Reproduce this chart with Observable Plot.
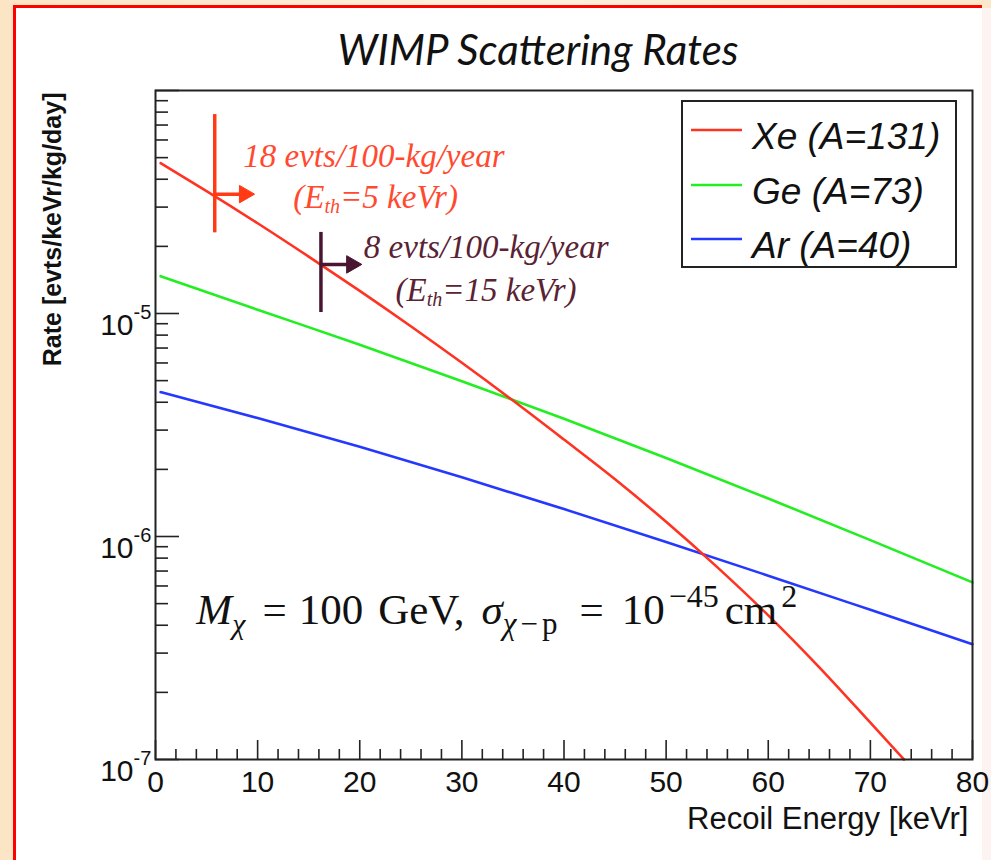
<!DOCTYPE html>
<html>
<head>
<meta charset="utf-8">
<script src="https://cdn.jsdelivr.net/npm/d3@7"></script>
<script src="https://cdn.jsdelivr.net/npm/@observablehq/plot@0.6"></script>
<style>
html, body { margin: 0; padding: 0; }
body { width: 991px; height: 860px; overflow: hidden; position: relative;
  background: linear-gradient(90deg, #fbe5c4 0%, #fdf0dc 50%, #fbe7c9 100%);
  font-family: "Liberation Sans", Arial, sans-serif; }
#panel { position: absolute; left: 13px; top: 5px; width: 969px; height: 870px; background: #ffffff;
  border-top: 3px solid #ff0000; border-left: 3px solid #ff0000; box-sizing: border-box; }
#edge { position: absolute; left: 982px; top: 8px; width: 9px; height: 852px; background: #fdf3f0; }
#chart { position: absolute; left: 0; top: 0; }
#legend { position: absolute; left: 0; top: 0; }
</style>
</head>
<body>
<div id="panel"></div>
<div id="edge"></div>
<div id="chart"></div>
<svg id="legend" width="991" height="860"></svg>
<script>
// ---------- data ----------
const title = "WIMP Scattering Rates";
const xLabel = "Recoil Energy [keVr]";
const yLabel = "Rate [evts/keVr/kg/day]";
const seriesNames = ["Xe (A=131)", "Ge (A=73)", "Ar (A=40)"];

const xeEnergy = [0.5, 5, 10, 15, 20, 25, 30, 35, 40, 45, 50, 55, 60, 65, 70, 73.3];
const xeRate = [4.72e-5, 3.54e-5, 2.54e-5, 1.80e-5, 1.264e-5, 8.77e-6, 6.01e-6, 4.07e-6, 2.72e-6, 1.806e-6, 1.164e-6, 7.29e-7, 4.43e-7, 2.59e-7, 1.462e-7, 1.0e-7];
const geEnergy = [0.5, 10, 20, 30, 40, 50, 60, 70, 80];
const geRate = [1.47e-5, 1.039e-5, 7.25e-6, 4.97e-6, 3.37e-6, 2.25e-6, 1.481e-6, 9.63e-7, 6.23e-7];
const arEnergy = [0.5, 10, 20, 30, 40, 50, 60, 70, 80];
const arRate = [4.44e-6, 3.396e-6, 2.525e-6, 1.843e-6, 1.327e-6, 9.45e-7, 6.675e-7, 4.69e-7, 3.29e-7];

const xTicks = [0, 10, 20, 30, 40, 50, 60, 70, 80];
const xMinorTicks = [2, 4, 6, 8, 12, 14, 16, 18, 22, 24, 26, 28, 32, 34, 36, 38, 42, 44, 46, 48,
  52, 54, 56, 58, 62, 64, 66, 68, 72, 74, 76, 78];
const yTicks = [1e-7, 1e-6, 1e-5, 1e-4];
const yMinorTicks = [2e-7, 3e-7, 4e-7, 5e-7, 6e-7, 7e-7, 8e-7, 9e-7,
  2e-6, 3e-6, 4e-6, 5e-6, 6e-6, 7e-6, 8e-6, 9e-6,
  2e-5, 3e-5, 4e-5, 5e-5, 6e-5, 7e-5, 8e-5, 9e-5];
const yLabelTicks = [1e-7, 1e-6, 1e-5];
const yTickBase = ["10", "10", "10"];
const yTickExp = ["-7", "-6", "-5"];

// threshold markers
const thresholdEnergy = [5.8, 16.2];
const thresholdTop = [7.8e-5, 2.31e-5];
const thresholdBottom = [2.3e-5, 1.01e-5];
const arrowRate = [3.43e-5, 1.66e-5];
const arrowEnd = [9.3, 19.8];

const noteText = ["18 evts/100-kg/year", "(Eth=5 keVr)", "8 evts/100-kg/year", "(Eth=15 keVr)"];
const noteEnergy = [8.6, 13.5, 20.4, 23.5];
const noteRate = [4.52e-5, 2.96e-5, 1.78e-5, 1.14e-5];

const formulaText = ["Mχ = 100 GeV, σχ−p = 10−45cm2"];
const formulaEnergy = [4.0];
const formulaRate = [4.07e-7];

// ---------- styles ----------
const seriesColors = ["#ff3322", "#22ee22", "#2438ff"];
const markerColors = ["#ff3a14", "#4a1530"];
const noteColors = ["#ff4a30", "#ff4a30", "#5a2232", "#5a2232"];
const serif = "'Liberation Serif', 'Times New Roman', serif";
const sans = "'Liberation Sans', Arial, Helvetica, sans-serif";

const xe = xeEnergy.map((e, i) => ({e, r: xeRate[i]}));
const ge = geEnergy.map((e, i) => ({e, r: geRate[i]}));
const ar = arEnergy.map((e, i) => ({e, r: arRate[i]}));
const thresholds = thresholdEnergy.map((x, i) => ({x, top: thresholdTop[i], bottom: thresholdBottom[i], ay: arrowRate[i], tip: arrowEnd[i]}));
const notes = noteText.map((t, i) => ({t, x: noteEnergy[i], y: noteRate[i], i}));
const yLab = yLabelTicks.map((v, i) => ({v, base: yTickBase[i], exp: yTickExp[i]}));
const formula = formulaText.map((t, i) => ({t, x: formulaEnergy[i], y: formulaRate[i]}));

function markerMarks(d, color) {
  return [
    Plot.ruleX([d], {x: "x", y1: "top", y2: "bottom", stroke: color, strokeWidth: 3.5}),
    Plot.link([d], {x1: "x", y1: "ay", x2: "tip", y2: "ay", stroke: color, strokeWidth: 3.5}),
    Plot.dot([d], {x: "tip", y: "ay", symbol: "triangle", rotate: 90, r: 6.5, fill: color, stroke: color, strokeWidth: 1, dx: -6})
  ];
}

const plot = Plot.plot({
  width: 991,
  height: 860,
  marginLeft: 155,
  marginRight: 19,
  marginTop: 90,
  marginBottom: 101,
  style: {background: "transparent", fontFamily: sans, overflow: "visible", color: "#111"},
  x: {domain: [0, 80]},
  y: {type: "log", domain: [1e-7, 1e-4]},
  marks: [
    Plot.line(ar, {x: "e", y: "r", stroke: seriesColors[2], strokeWidth: 2.6, curve: "monotone-x"}),
    Plot.line(ge, {x: "e", y: "r", stroke: seriesColors[1], strokeWidth: 2.6, curve: "monotone-x"}),
    Plot.line(xe, {x: "e", y: "r", stroke: seriesColors[0], strokeWidth: 2.6, curve: "monotone-x"}),
    // threshold markers
    ...markerMarks(thresholds[0], markerColors[0]),
    ...markerMarks(thresholds[1], markerColors[1]),
    // notes
    Plot.text(notes, {x: "x", y: "y", text: "t", fill: (d) => noteColors[d.i], textAnchor: "start", lineAnchor: "bottom",
      fontFamily: serif, fontStyle: "italic", fontSize: 33}),
    Plot.text(formula, {x: "x", y: "y", text: "t", fill: "#111", textAnchor: "start", lineAnchor: "bottom",
      fontFamily: serif, fontSize: 43}),
    // frame
    Plot.frame({stroke: "#222", strokeWidth: 2}),
    // axes ticks (inward)
    Plot.axisX(xTicks, {tickSize: -19, tickFormat: () => "", stroke: "#222", strokeWidth: 1.6, label: null}),
    Plot.axisX(xMinorTicks, {tickSize: -10, tickFormat: () => "", stroke: "#222", strokeWidth: 1.6, label: null}),
    Plot.axisX(xTicks, {tickSize: 0, tickPadding: 11, fontSize: 30, fill: "#111", label: null, tickFormat: (d) => String(d)}),
    Plot.axisY(yTicks, {tickSize: -24, tickFormat: () => "", stroke: "#222", strokeWidth: 1.6, label: null}),
    Plot.axisY(yMinorTicks, {tickSize: -13, tickFormat: () => "", stroke: "#222", strokeWidth: 1.6, label: null}),
    // y tick labels 10^n
    Plot.text(yLab, {y: "v", text: "base", frameAnchor: "left", textAnchor: "end", lineAnchor: "middle", dx: -22, dy: 12, fontSize: 30, fill: "#111"}),
    Plot.text(yLab, {y: "v", text: "exp", frameAnchor: "left", textAnchor: "start", lineAnchor: "middle", dx: -22, dy: -1, fontSize: 20, fill: "#111"}),
    // titles
    Plot.text([title], {text: (d) => d, frameAnchor: "top", dx: -26, dy: -26, lineAnchor: "bottom", fontSize: 42,
      fontStyle: "italic", fontFamily: "Lato, 'Open Sans', sans-serif", fontWeight: 400, fill: "#111"}),
    Plot.text([xLabel], {text: (d) => d, frameAnchor: "bottom-right", textAnchor: "end", lineAnchor: "bottom", dx: -4, dy: 69, fontSize: 31, fill: "#111"}),
    Plot.text([yLabel], {text: (d) => d, frameAnchor: "top-left", rotate: -90, textAnchor: "end", lineAnchor: "middle", dx: -103, dy: 2, fontSize: 25, fontWeight: "bold", fill: "#111"})
  ]
});
document.getElementById("chart").appendChild(plot);

// typographic sub/superscripts
plot.querySelectorAll("text").forEach((t) => {
  const s = t.textContent;
  if (s === noteText[1] || s === noteText[3]) {
    const rest = s.slice(4);
    t.innerHTML = `(E<tspan font-size="20" dy="5">th</tspan><tspan dy="-5">${rest}</tspan>`;
  } else if (s === formulaText[0]) {
    t.innerHTML =
      `<tspan font-style="italic">M</tspan>` +
      `<tspan font-size="30" font-style="italic" dy="10">χ</tspan>` +
      `<tspan dx="17" dy="-10">=</tspan>` +
      `<tspan dx="12">100</tspan>` +
      `<tspan dx="15">GeV,</tspan>` +
      `<tspan dx="17" font-style="italic">σ</tspan>` +
      `<tspan font-size="31" dy="10" font-style="italic">χ</tspan>` +
      `<tspan font-size="31" dx="4">−</tspan>` +
      `<tspan font-size="31" dx="4">p</tspan>` +
      `<tspan dx="22" dy="-10">=</tspan>` +
      `<tspan dx="18">10</tspan>` +
      `<tspan font-size="32" dx="4" dy="-17">−45</tspan>` +
      `<tspan dx="6" dy="17">cm</tspan>` +
      `<tspan font-size="32" dx="4" dy="-17">2</tspan>`;
  }
});

// legend
const lg = d3.select("#legend");
lg.append("rect").attr("x", 682).attr("y", 101).attr("width", 274).attr("height", 166)
  .attr("fill", "#fff").attr("stroke", "#222").attr("stroke-width", 2);
const rowY = [130, 185, 239];
seriesNames.forEach((name, i) => {
  lg.append("line").attr("x1", 691).attr("x2", 742).attr("y1", rowY[i]).attr("y2", rowY[i])
    .attr("stroke", seriesColors[i]).attr("stroke-width", 2.6);
  lg.append("text").attr("x", 752).attr("y", rowY[i] + 19).attr("font-size", 37)
    .attr("font-style", "italic").attr("font-family", sans).attr("fill", "#111").text(name);
});
</script>
</body>
</html>
